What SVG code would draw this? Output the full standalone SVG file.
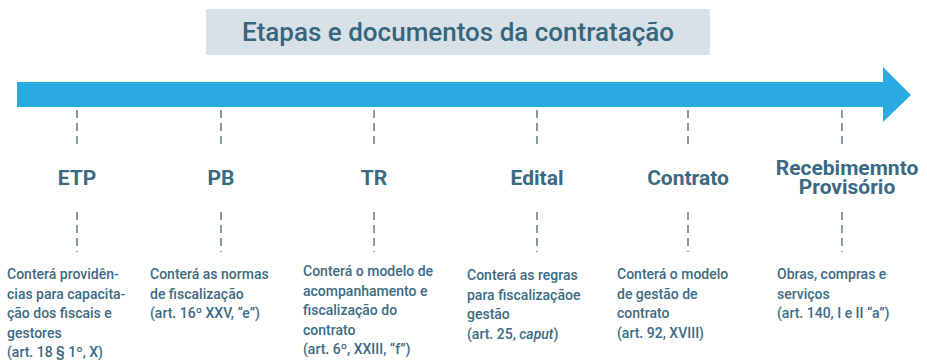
<svg xmlns="http://www.w3.org/2000/svg" width="927" height="363" viewBox="0 0 927 363">
<style>
.title{font-family:Roboto,"Liberation Sans",sans-serif;font-size:26px;font-weight:500;fill:#36667d;text-anchor:middle}
.lbl{font-family:Roboto,"Liberation Sans",sans-serif;font-size:21px;font-weight:700;fill:#3a6a82;text-anchor:middle}
.desc{font-family:Roboto,"Liberation Sans",sans-serif;font-size:14px;font-weight:500;fill:#3d6b83}
.dash{stroke:#6d7f8a;stroke-width:1.6;stroke-dasharray:8 5;fill:none}
</style>
<rect x="0" y="0" width="927" height="363" fill="#ffffff"/>
<g id="title">
<rect x="206" y="9" width="504" height="46" fill="#d9e1e8"/>
<text class="title" x="458" y="41">Etapas e documentos da contratação</text>
</g>
<g id="arrow">
<polygon points="17,82 883,82 883,67 911,95 883,122 883,107 17,107" fill="#29abe2"/>
</g>
<g id="connectors">
<path class="dash" d="M77,110V145M77,212V252"/>
<path class="dash" d="M221,110V145M221,212V252"/>
<path class="dash" d="M374,110V145M374,212V252"/>
<path class="dash" d="M537,110V145M537,212V252"/>
<path class="dash" d="M688,110V145M688,212V252"/>
<path class="dash" d="M842,110V145M842,212V252"/>
</g>
<g id="etp">
<text class="lbl" x="77" y="185">ETP</text>
<text class="desc" x="7" y="279">Conterá providên-</text>
<text class="desc" x="7" y="298.5">cias para capacita-</text>
<text class="desc" x="7" y="318">ção dos fiscais e</text>
<text class="desc" x="7" y="337.5">gestores</text>
<text class="desc" x="7" y="357">(art. 18 § 1º, X)</text>
</g>
<g id="pb">
<text class="lbl" x="221" y="185">PB</text>
<text class="desc" x="150" y="279">Conterá as normas</text>
<text class="desc" x="150" y="298.5">de fiscalização</text>
<text class="desc" x="150" y="318">(art. 16º XXV, “e”)</text>
</g>
<g id="tr">
<text class="lbl" x="374" y="185">TR</text>
<text class="desc" x="303" y="276">Conterá o modelo de</text>
<text class="desc" x="303" y="295.5">acompanhamento e</text>
<text class="desc" x="303" y="315">fiscalização do</text>
<text class="desc" x="303" y="334.5">contrato</text>
<text class="desc" x="303" y="354">(art. 6º, XXIII, “f”)</text>
</g>
<g id="edital">
<text class="lbl" x="537" y="185">Edital</text>
<text class="desc" x="467" y="280">Conterá as regras</text>
<text class="desc" x="467" y="299.5">para fiscalizaçãoe</text>
<text class="desc" x="467" y="319">gestão</text>
<text class="desc" x="467" y="338.5">(art. 25, <tspan font-style="italic">caput</tspan>)</text>
</g>
<g id="contrato">
<text class="lbl" x="688" y="185">Contrato</text>
<text class="desc" x="617" y="279">Conterá o modelo</text>
<text class="desc" x="617" y="298.5">de gestão de</text>
<text class="desc" x="617" y="318">contrato</text>
<text class="desc" x="617" y="337.5">(art. 92, XVIII)</text>
</g>
<g id="recebimento">
<text class="lbl" x="847" y="175">Recebimemnto<tspan x="847" dy="19">Provisório</tspan></text>
<text class="desc" x="777" y="279">Obras, compras e</text>
<text class="desc" x="777" y="298.5">serviços</text>
<text class="desc" x="777" y="318">(art. 140, I e II “a”)</text>
</g>
</svg>
